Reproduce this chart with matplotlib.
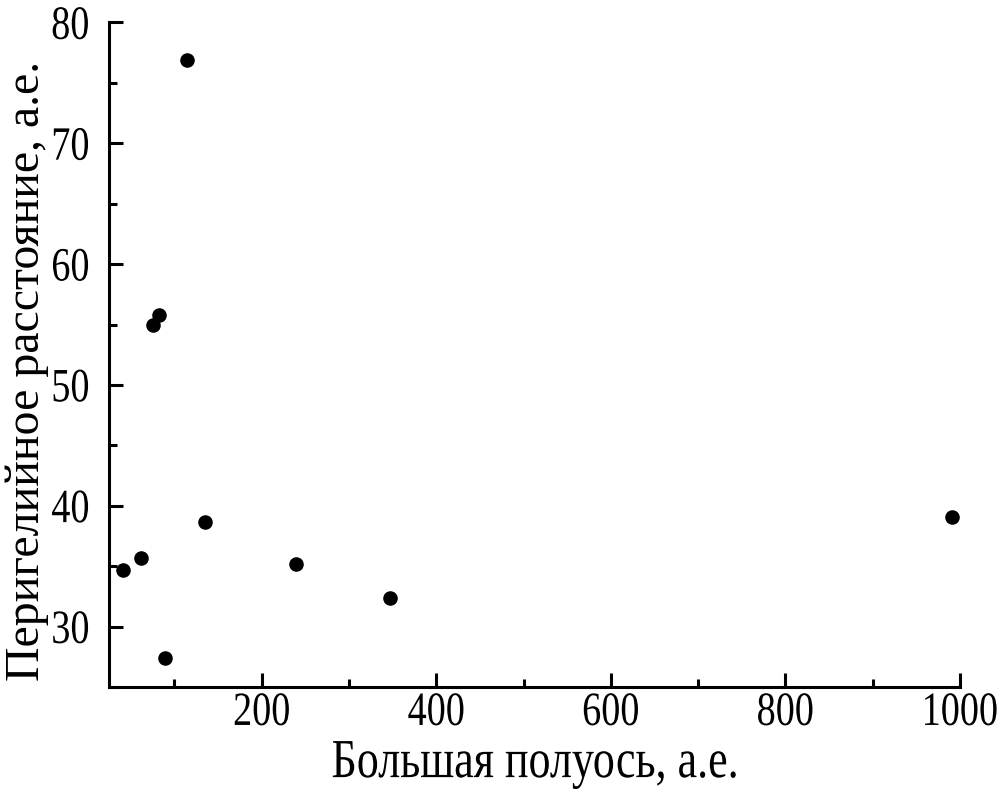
import matplotlib
matplotlib.use("Agg")
import matplotlib.pyplot as plt
from matplotlib.ticker import MultipleLocator
from matplotlib.patheffects import AbstractPathEffect
from matplotlib.transforms import Affine2D

# Data
semi_major_axis = [114.2, 75.3, 82.2, 135.1, 41.3, 61.6, 89.4, 239.7, 346.8, 991.4]
perihelion = [76.9, 55.0, 55.8, 38.65, 34.7, 35.7, 27.4, 35.2, 32.4, 39.1]

x_label = "Большая полуось, а.е."
y_label = "Перигелийное расстояние, а.е."


class Stretch(AbstractPathEffect):
    """Stretch text glyphs about their centre (local text coordinates)."""
    def __init__(self, sx=1.0, sy=1.0):
        super().__init__()
        self.sx, self.sy = sx, sy

    def draw_path(self, renderer, gc, tpath, affine, rgbFace=None):
        ext = tpath.get_extents()
        cx, cy = (ext.x0 + ext.x1) / 2, (ext.y0 + ext.y1) / 2
        pre = Affine2D().translate(-cx, -cy).scale(self.sx, self.sy).translate(cx, cy)
        renderer.draw_path(gc, tpath, pre + affine, rgbFace)


plt.rcParams['font.family'] = ['Liberation Serif', 'DejaVu Serif']

fig = plt.figure(figsize=(10.02, 7.91), dpi=100)
ax = fig.add_axes([0.1088, 0.1315, 0.958 - 0.1088, 0.9716 - 0.1315])

ax.scatter(semi_major_axis, perihelion, s=110, color='black', zorder=3, linewidths=0)

ax.set_xlim(25, 1000)
ax.set_ylim(25, 80)
ax.xaxis.set_major_locator(MultipleLocator(200))
ax.xaxis.set_minor_locator(MultipleLocator(100))
ax.yaxis.set_major_locator(MultipleLocator(10))
ax.yaxis.set_minor_locator(MultipleLocator(5))

ax.spines['top'].set_visible(False)
ax.spines['right'].set_visible(False)
for s in ('left', 'bottom'):
    ax.spines[s].set_linewidth(2.2)

ax.tick_params(which='major', direction='in', length=10, width=2.2, labelsize=27.5)
ax.tick_params(axis='x', which='major', pad=6)
ax.tick_params(axis='y', which='major', pad=14)
ax.tick_params(which='minor', direction='in', length=6, width=2.2)

ax.set_xlabel(x_label, fontsize=31.7, labelpad=10)
ax.set_ylabel(y_label, fontsize=34.5)
ax.yaxis.set_label_coords(-0.07, 0.476)

fig.canvas.draw()
for lbl in ax.get_xticklabels() + ax.get_yticklabels():
    lbl.set_path_effects([Stretch(1.0, 1.25)])
ax.xaxis.label.set_path_effects([Stretch(1.0, 1.25)])

fig.savefig("out.png", dpi=100)
